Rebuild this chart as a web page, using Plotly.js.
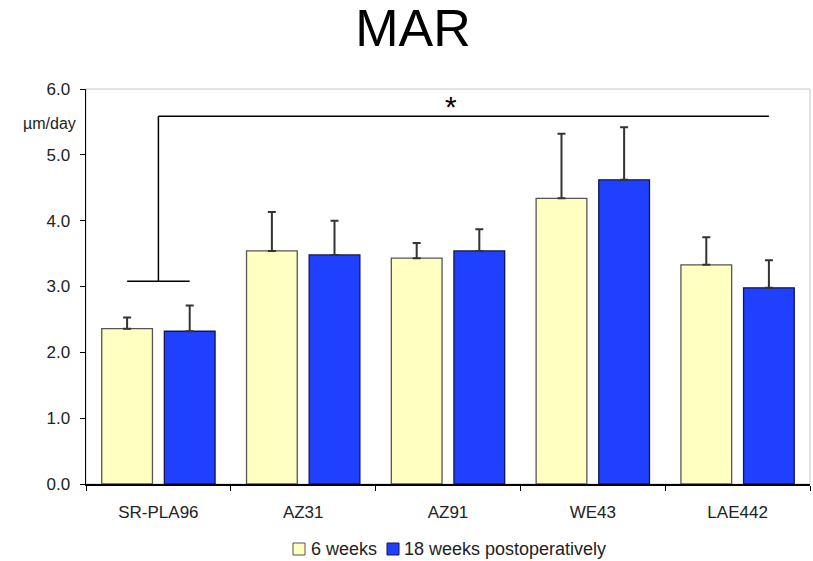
<!DOCTYPE html>
<html>
<head>
<meta charset="utf-8">
<script src="https://cdn.plot.ly/plotly-3.0.1.min.js"></script>
<style>html,body{margin:0;padding:0;background:#fff}#chart{width:813px;height:561px}</style>
</head>
<body>
<div id="chart"></div>
<script>
const categories = ["SR-PLA96", "AZ31", "AZ91", "WE43", "LAE442"];
const seriesNames = ["6 weeks", "18 weeks postoperatively"];
const weeks6 = [2.36, 3.54, 3.43, 4.34, 3.33];
const weeks6Err = [0.17, 0.59, 0.23, 0.98, 0.42];
const weeks18 = [2.32, 3.48, 3.54, 4.62, 2.98];
const weeks18Err = [0.39, 0.52, 0.33, 0.80, 0.42];
const yTicks = [0, 1, 2, 3, 4, 5, 6];
const yTickLabels = ["0.0", "1.0", "2.0", "3.0", "4.0", "5.0", "6.0"];
// significance bracket: left group (SR-PLA96) to LAE442 18 weeks
const bracketLow = 3.08;
const bracketHigh = 5.585;

const colors = ["#ffffc2", "#2040ff"];
const outlines = ["#555555", "#101850"];
const zeros = weeks6.map(() => 0);
const font = "Liberation Sans, Arial, sans-serif";

const traces = [
  {
    type: "bar", name: seriesNames[0], x: categories, y: weeks6,
    marker: {color: colors[0], line: {color: outlines[0], width: 1.3}},
    error_y: {type: "data", symmetric: false, array: weeks6Err, arrayminus: zeros,
              color: "#333333", thickness: 2, width: 4}
  },
  {
    type: "bar", name: seriesNames[1], x: categories, y: weeks18,
    marker: {color: colors[1], line: {color: outlines[1], width: 1.3}},
    error_y: {type: "data", symmetric: false, array: weeks18Err, arrayminus: zeros,
              color: "#333333", thickness: 2, width: 4}
  }
];

// pixel helpers for the custom legend (plot area: x 86..810, y 89..484)
const px = v => (v - 86) / 724;
const py = v => (484 - v) / 395;

const off = 0.216;
const shapes = [
  {type: "rect", xref: "paper", yref: "paper", x0: 0, x1: 1, y0: 0, y1: 1,
   line: {color: "#c8c8c8", width: 1}, layer: "below"},
  {type: "line", xref: "x", yref: "y", x0: 0 - off, x1: 0 + off, y0: bracketLow, y1: bracketLow,
   line: {color: "#000", width: 1.5}},
  {type: "line", xref: "x", yref: "y", x0: 0, x1: 0, y0: bracketLow, y1: bracketHigh,
   line: {color: "#000", width: 1.5}},
  {type: "line", xref: "x", yref: "y", x0: 0, x1: 4 + off, y0: bracketHigh, y1: bracketHigh,
   line: {color: "#000", width: 1.5}},
  // legend swatches
  {type: "rect", xref: "paper", yref: "paper", x0: px(293), x1: px(305), y0: py(555), y1: py(543),
   fillcolor: colors[0], line: {color: outlines[0], width: 1}},
  {type: "rect", xref: "paper", yref: "paper", x0: px(387), x1: px(399), y0: py(555), y1: py(543),
   fillcolor: colors[1], line: {color: outlines[1], width: 1}}
];

const layout = {
  width: 813, height: 561,
  margin: {l: 86, r: 3, t: 89, b: 77},
  paper_bgcolor: "#fff", plot_bgcolor: "#fff",
  title: {text: "MAR", font: {family: font, size: 52, color: "#000"}, x: 0.508, xanchor: "center", y: 0.95, yanchor: "middle"},
  barmode: "group", bargap: 0.135, bargroupgap: 0.19,
  showlegend: false,
  xaxis: {
    type: "category", showline: true, linecolor: "#000", linewidth: 1.5,
    ticks: "outside", tickson: "boundaries", ticklen: 5, tickcolor: "#000",
    tickfont: {family: font, size: 17, color: "#222"}, showgrid: false, zeroline: false,
    ticklabelstandoff: 12,
    range: [-0.5, 4.5], fixedrange: true
  },
  yaxis: {
    range: [0, 6], tickvals: yTicks, ticktext: yTickLabels, showline: true, linecolor: "#000", linewidth: 1.5,
    ticks: "outside", ticklen: 5, tickcolor: "#000", showgrid: false, zeroline: false,
    ticklabelstandoff: 6,
    tickfont: {family: font, size: 17, color: "#222"}
  },
  shapes: shapes,
  annotations: [
    {text: "µm/day", xref: "paper", yref: "paper", x: px(78), y: py(123), xanchor: "right", yanchor: "middle",
     showarrow: false, font: {family: font, size: 16, color: "#222"}},
    {text: "*", xref: "x", yref: "y", x: 2.02, y: bracketHigh, yanchor: "bottom", showarrow: false,
     font: {family: font, size: 30, color: "#000"}, yshift: -9},
    {text: seriesNames[0], xref: "paper", yref: "paper", x: px(309), y: py(549), xanchor: "left", yanchor: "middle",
     showarrow: false, font: {family: font, size: 18, color: "#222"}},
    {text: seriesNames[1], xref: "paper", yref: "paper", x: px(402), y: py(549), xanchor: "left", yanchor: "middle",
     showarrow: false, font: {family: font, size: 18, color: "#222"}}
  ]
};

Plotly.newPlot("chart", traces, layout, {displayModeBar: false, staticPlot: true});
</script>
</body>
</html>
